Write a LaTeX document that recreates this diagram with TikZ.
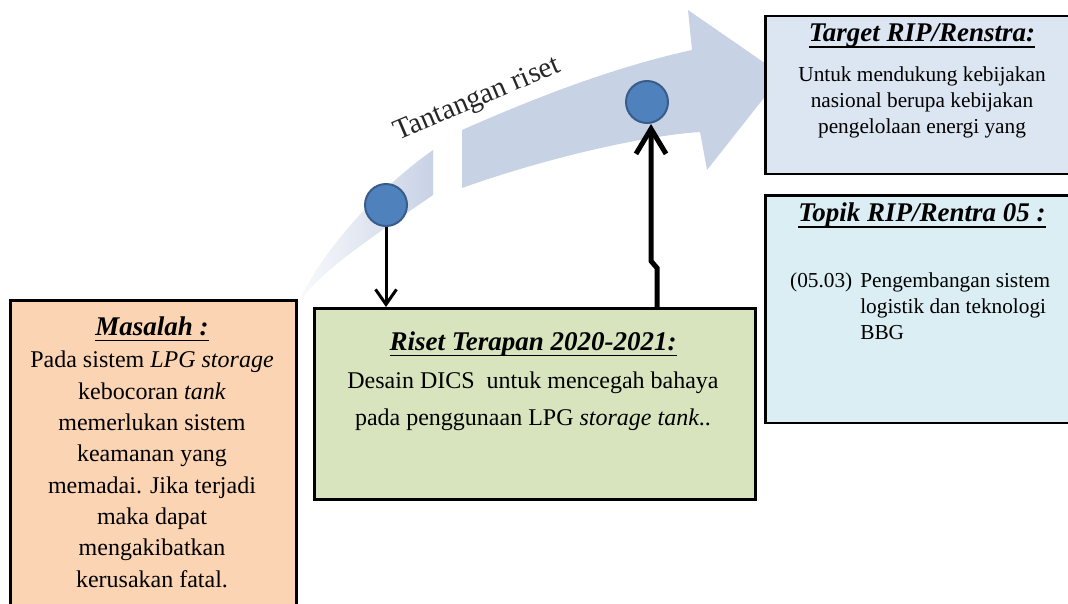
\documentclass[tikz,border=0pt]{standalone}
\usepackage{fontspec}
\setmainfont{Liberation Serif}
\usetikzlibrary{arrows.meta, positioning, calc}

\definecolor{masalahfill}{HTML}{FBD4B4}
\definecolor{risetfill}{HTML}{D7E4BD}
\definecolor{targetfill}{HTML}{DCE6F2}
\definecolor{topikfill}{HTML}{DBEEF4}
\definecolor{dotfill}{HTML}{4F81BD}
\definecolor{dotline}{HTML}{385D8A}
\definecolor{arrowblue}{HTML}{C8D2E5}

% underlined title text
\newcommand{\ulbox}[1]{\setbox0\hbox{#1}\rlap{\rule[-6.3pt]{\wd0}{1.8pt}}\box0}

\begin{document}
\begin{tikzpicture}[
    x=1pt, y=-1pt,
    % --- Global styles ---
    every node/.style={inner sep=0pt},
    % --- Boxes ---
    box/.style={draw, line width=2.5pt, anchor=north west},
    masalah box/.style={box, fill=masalahfill, minimum width=286pt, minimum height=360pt},
    riset box/.style={box, fill=risetfill, minimum width=441pt, minimum height=191pt},
    target box/.style={box, fill=targetfill, minimum width=316pt, minimum height=158pt},
    topik box/.style={box, fill=topikfill, minimum width=316pt, minimum height=227pt},
    % --- Texts (body nodes sit on the baseline of their last line) ---
    ttl/.style={font=\fontsize{27}{32}\selectfont\bfseries\itshape, anchor=base},
    body/.style={font=\fontsize{24}{31.3}\selectfont, align=center, anchor=base},
    small body/.style={body, font=\fontsize{21.3}{26}\selectfont},
    % --- Markers and arrows ---
    dot/.style={circle, draw=dotline, fill=dotfill, line width=2pt, minimum size=42pt},
    thin flow/.style={-{Straight Barb[length=15pt, width=21pt]}, line width=3pt},
    thick flow/.style={-{Straight Barb[length=25pt, width=30pt]}, line width=5pt},
  ]

  \useasboundingbox (0,0) rectangle (1068,604);

  %% ---- Big curved arrow ----
  \shade[left color=arrowblue!10, right color=arrowblue]
    (297,305) .. controls (320,255) and (370,195) .. (433,150)
    -- (433,195) .. controls (380,232) and (320,270) .. (297,305) -- cycle;
  \fill[arrowblue]
    (462,130) .. controls (530,100) and (610,68) .. (692,50)
    -- (688,10) -- (782,75) -- (707,170) -- (700,132)
    .. controls (640,136) and (540,160) .. (462,188) -- cycle;

  \node[font=\fontsize{29}{34}\selectfont, text=black!85, rotate=23, anchor=base]
    (tantangan) at (480,106) {Tantangan riset};

  %% ---- Boxes ----

  % Masalah
  \node[masalah box] (masalah) at (9,299) {};
  \node[ttl] (masalahttl) at (152,335) {\ulbox{Masalah :}};
  \node[body] (masalahtxt) at (152,587)
    {Pada sistem \textit{LPG storage}\\ kebocoran \textit{tank}\\ memerlukan sistem\\
     keamanan yang\\ memadai. Jika terjadi\\ maka dapat\\ mengakibatkan\\ kerusakan fatal.};

  % Riset terapan
  \node[riset box] (riset) at (313,307) {};
  \node[ttl] (risetttl) at (533,350) {\ulbox{Riset Terapan 2020-2021:}};
  \node[body, font=\fontsize{24}{37}\selectfont] (risettxt) at (533,425)
    {Desain DICS\ \ untuk mencegah bahaya\\ pada penggunaan LPG \textit{storage tank}..};

  % Target RIP/Renstra
  \node[target box] (target) at (764,15) {};
  \node[ttl] (targetttl) at (922,42) {\ulbox{Target RIP/Renstra:}};
  \node[small body] (targettxt) at (922,134)
    {Untuk mendukung kebijakan\\ nasional berupa kebijakan\\ pengelolaan energi yang};

  % Topik RIP/Rentra
  \node[topik box, below=19pt of target.south west, anchor=north west] (topik) {};
  \node[ttl] (topikttl) at (922,222) {\ulbox{Topik RIP/Rentra 05 :}};
  \node[small body, anchor=base west] (topiktxt) at (790,287)
    {\begin{tabular}[t]{@{}l@{\hspace{8pt}}l@{}}
      (05.03) & Pengembangan sistem\\
              & logistik dan teknologi\\
              & BBG
     \end{tabular}};

  %% ---- Markers ----
  \node[dot] (c1) at (386,205) {};
  \node[dot] (c2) at (647,102) {};

  %% ---- Arrows ----
  \coordinate (jogbot) at (657,268);
  \coordinate (jogtop) at (651,261);

  \draw[thin flow] (c1.south) -- (c1.south |- riset.north);
  \draw[thick flow] (riset.north -| jogbot) -- (jogbot) -- (jogtop)
    -- (c2.south -| jogtop);

\end{tikzpicture}
\end{document}
